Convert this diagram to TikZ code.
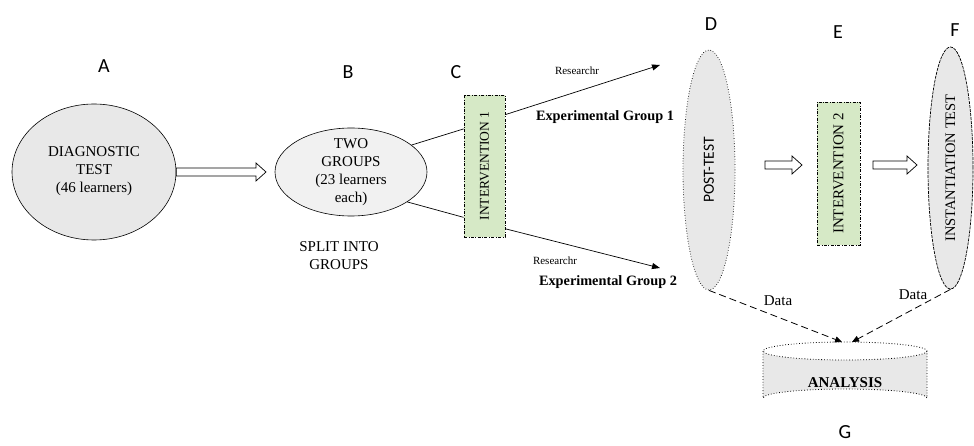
\documentclass[tikz,border=0pt]{standalone}
\usepackage{fontspec}
\usepackage{graphicx}
\setmainfont{Liberation Serif}
\newfontfamily\calfont{Carlito}
\usetikzlibrary{shapes.geometric,arrows.meta,calc}
\definecolor{bubble}{RGB}{232,232,232}
\definecolor{bubblelt}{RGB}{241,241,241}
\definecolor{boxgreen}{RGB}{214,233,198}
% hollow block arrow between two named coordinates on one horizontal line
\newcommand\hollowarr[2]{%
  \draw[hollow] let \p1=(#1), \p2=(#2) in
    (\x1,\y1+4pt) -- (\x2-10pt,\y1+4pt) -- (\x2-10pt,\y1+9pt) -- (\x2,\y1)
    -- (\x2-10pt,\y1-9pt) -- (\x2-10pt,\y1-4pt) -- (\x1,\y1-4pt) -- cycle;}
\begin{document}
\begin{tikzpicture}[x=1pt,y=-1pt,
  letter/.style={font=\calfont\fontsize{20}{20}\selectfont},
  body/.style={font=\fontsize{15}{18}\selectfont, align=center, inner sep=0pt},
  bell/.style={ellipse, draw, inner sep=0pt, line width=0.6pt},
  interv/.style={draw, line width=0.7pt, dash pattern=on 3pt off 1.5pt on 0.8pt off 1.5pt, fill=boxgreen, inner sep=0pt, font=\fontsize{13.5}{14}\selectfont},
  hollow/.style={draw, fill=white, line width=0.7pt, line join=miter},
  tip/.style={-{Triangle[length=8pt,width=6pt]}, line width=0.7pt},
  datatip/.style={-{Triangle[length=7pt,width=6pt]}, line width=0.8pt, dash pattern=on 7pt off 4pt},
  small/.style={font=\fontsize{11}{11}\selectfont, inner sep=0pt},
  grp/.style={font=\bfseries\fontsize{14.3}{15}\selectfont, inner sep=0pt}
]
\useasboundingbox (0,0) rectangle (974,446);

% letters
\node[letter] (lA) at (104,66) {A};
\node[letter] (lB) at (348,72) {B};
\node[letter] (lC) at (456,72) {C};
\node[letter] (lD) at (711,24) {D};
\node[letter] (lE) at (838,32) {E};
\node[letter] (lF) at (955,30) {F};
\node[letter] (lG) at (845,432) {G};

% A
\node[bell, fill=bubble, minimum width=164pt, minimum height=136pt] (A) at (94,172) {};
\node[body] (At) at (94,171) {DIAGNOSTIC\\TEST\\(46 learners)};

% B
\node[bell, fill=bubblelt, minimum width=152pt, minimum height=88pt] (B) at (351,172) {};
\node[body] (Bt) at (351,172) {TWO\\GROUPS\\(23 learners\\each)};
\node[body] (split) at (339,256) {SPLIT INTO\\GROUPS};

% hollow arrow A -> B
\coordinate (h1s) at (A.east);
\coordinate (h1e) at (266,172);
\hollowarr{h1s}{h1e}

% C
\node[interv, minimum width=41pt, minimum height=142pt] (C) at (484.5,166) {\rotatebox{90}{INTERVENTION 1}};

\draw[line width=0.7pt] (B.24) -- ($(C.north west)!0.24!(C.south west)$);
\draw[line width=0.7pt] (B.-28) -- ($(C.north west)!0.86!(C.south west)$);

\coordinate (g1) at (660,65);
\coordinate (g2) at (660,268);
\draw[tip] ($(C.north east)!0.14!(C.south east)$) -- (g1);
\draw[tip] ($(C.north east)!0.94!(C.south east)$) -- (g2);

\node[small] (r1) at (577,71) {Researchr};
\node[grp] (e1) at (605,117) {Experimental Group 1};
\node[small] (r2) at (555,261) {Researchr};
\node[grp] (e2) at (608,282) {Experimental Group 2};

% D
\node[bell, fill=bubble, dotted, line width=0.8pt, minimum width=52pt, minimum height=240pt] (D) at (709,170) {};
\node[font=\calfont\fontsize{15.5}{15.5}\selectfont, inner sep=0pt] (Dt) at (709,170) {\rotatebox{90}{POST-TEST}};

% E
\node[interv, minimum width=43pt, minimum height=143pt, font=\fontsize{15}{15}\selectfont] (E) at (838.5,173.5) {\rotatebox{90}{INTERVENTION 2}};

% F
\node[bell, fill=bubble, dash pattern=on 3pt off 1pt, line width=0.7pt, minimum width=45pt, minimum height=242pt] (F) at (950.5,168) {};
\node[font=\fontsize{14.5}{15}\selectfont, inner sep=0pt] (Ft) at (950.5,168) {\rotatebox{90}{INSTANTIATION TEST}};

% hollow arrows D -> E -> F
\coordinate (h2s) at (765,165);
\coordinate (h2e) at (802,165);
\hollowarr{h2s}{h2e}
\coordinate (h3s) at (873,165);
\coordinate (h3e) at (917,165);
\hollowarr{h3s}{h3e}

% G cylinder
\path[fill=bubble] (763,351) -- (763,398) arc[start angle=180, end angle=360, x radius=82, y radius=9] -- (927,351) arc[start angle=0, end angle=180, x radius=82, y radius=9] -- cycle;
\draw[dotted, line width=0.8pt] (763,351) -- (763,398) arc[start angle=180, end angle=360, x radius=82, y radius=9] -- (927,351);
\draw[dotted, line width=0.8pt] (845,351) ellipse[x radius=82, y radius=9];
\node[font=\bfseries\fontsize{15}{15}\selectfont, inner sep=0pt] (G) at (845,383) {ANALYSIS};
\coordinate (gin1) at (842,342);
\coordinate (gin2) at (852,342);

\draw[datatip] (D.south) -- (gin1);
\draw[datatip] (F.south) -- (gin2);
\node[body] (d1) at (778,301) {Data};
\node[body] (d2) at (913,295) {Data};
\end{tikzpicture}
\end{document}
